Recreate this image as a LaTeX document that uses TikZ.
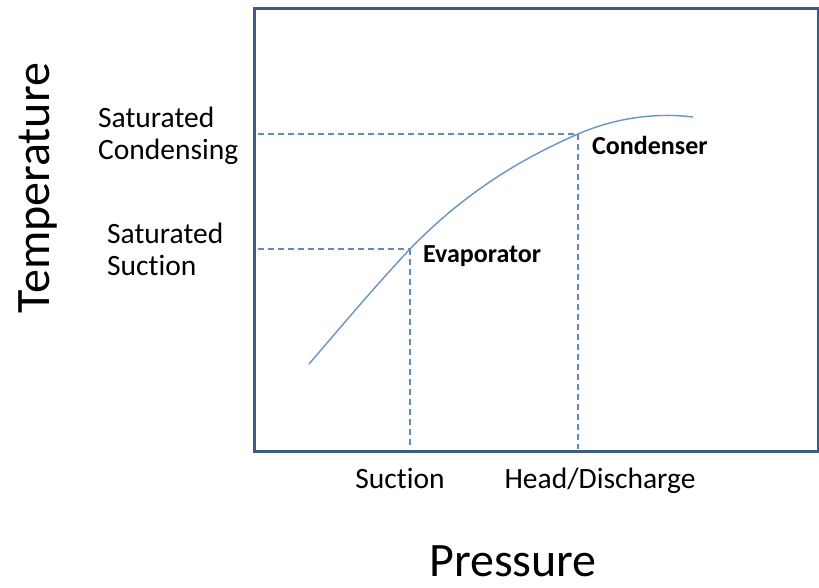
\documentclass[tikz,border=0pt]{standalone}
\usepackage{fontspec}
\setmainfont[Ligatures={NoCommon}]{Carlito}
\definecolor{boxcol}{RGB}{59,92,140}
\definecolor{curvecol}{RGB}{104,146,208}
\definecolor{dashcol}{RGB}{92,138,204}
\tikzset{
  frame/.style={draw=boxcol, line width=3pt},
  curveline/.style={draw=curvecol, line width=1.4pt},
  guide/.style={draw=dashcol, line width=1.3pt, dash pattern=on 6pt off 4pt},
  lbl/.style={font=\fontsize{29.5}{32}\selectfont, inner sep=0pt, align=left},
  pointlbl/.style={font=\bfseries\fontsize{26}{28}\selectfont, inner sep=0pt},
  axislbl/.style={font=\fontsize{48}{50}\selectfont, inner sep=0pt}
}
\begin{document}
\begin{tikzpicture}[x=1pt,y=-1pt]
\useasboundingbox (0,0) rectangle (819,587);
% frame
\node[frame, minimum width=564pt, minimum height=443pt, anchor=north west, inner sep=0pt] (box) at (253,7) {};
% key points
\coordinate (start) at (309,364);
\coordinate (evap) at (410,249);
\coordinate (cond) at (578,134);
\coordinate (finish) at (693,117);
\coordinate (evapL) at (258,249);
\coordinate (condL) at (258,134);
\coordinate (evapB) at (410,449);
\coordinate (condB) at (578,449);
% guides
\draw[guide] (evapL) -- (evap);
\draw[guide] (evap) -- (evapB);
\draw[guide] (condL) -- (cond);
\draw[guide] (cond) -- (condB);
% curve
\draw[curveline] (start) .. controls (345,322) and (378,283) .. (evap)
  .. controls (470,187) and (530,155) .. (cond)
  .. controls (620,116) and (660,113) .. (finish);
% point labels
\node[pointlbl, anchor=west] (evaplbl) at (423,256) {Evaporator};
\node[pointlbl, anchor=west] (condlbl) at (592,145) {Condenser};
% y labels
\node[lbl, anchor=west] (satcond) at (98,136) {Saturated\\Condensing};
\node[lbl, anchor=west] (satsuc) at (107,249) {Saturated\\Suction};
% x labels
\node[lbl, anchor=center] (suc) at (400,478) {Suction};
\node[lbl, anchor=center] (head) at (600,481) {Head/Discharge};
% axes
\node[axislbl, rotate=90, anchor=center] (temp) at (38,188) {Temperature};
\node[axislbl, anchor=base] (press) at (513,576) {Pressure};
\end{tikzpicture}
\end{document}
